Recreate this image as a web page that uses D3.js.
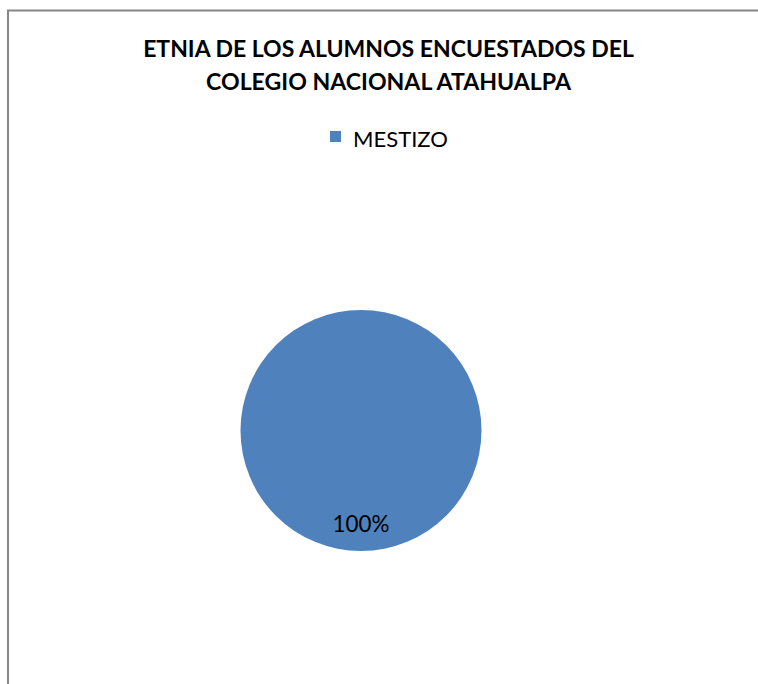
<!DOCTYPE html>
<html><head><meta charset="utf-8">
<script src="https://cdn.jsdelivr.net/npm/d3@7"></script>
<style>body{margin:0;background:#fff}svg{display:block}</style>
</head><body>
<svg id="c" width="758" height="684"></svg>
<script>
const categories = ["MESTIZO"];
const values = [100];
const labels = ["100%"];
const titleLines = ["ETNIA DE LOS ALUMNOS ENCUESTADOS DEL", "COLEGIO NACIONAL ATAHUALPA"];
const colors = ["#4F81BD"];

const svg = d3.select("#c");
const font = "Lato, 'Open Sans', sans-serif";

// chart frame
svg.append("rect").attr("x", 8).attr("y", 10.5).attr("width", 800).attr("height", 800)
  .attr("fill", "#fff").attr("stroke", "#868686").attr("stroke-width", 2);

function fitText(sel, target) {
  const w = sel.node().getComputedTextLength();
  const fs = parseFloat(sel.attr("font-size"));
  sel.attr("font-size", fs * target / w);
}

// title
const tw = [491, 365];
const ty = [57, 90];
titleLines.forEach((t, i) => {
  const s = svg.append("text").attr("x", 388.5).attr("y", ty[i]).attr("text-anchor", "middle")
    .attr("font-family", font).attr("font-weight", "bold").attr("font-size", 18).attr("fill", "#000").text(t);
  fitText(s, tw[i]);
});

// legend
const lg = svg.append("g");
lg.selectAll("rect").data(categories).join("rect")
  .attr("x", 330).attr("y", 131).attr("width", 11).attr("height", 11).attr("fill", (d, i) => colors[i]);
lg.selectAll("text").data(categories).join("text")
  .attr("x", 353).attr("y", 147).attr("font-family", font).attr("font-size", 20).attr("fill", "#000")
  .text(d => d).each(function(){ fitText(d3.select(this), 95); });

// pie
const cx = 361, cy = 430.5, r = 120.5;
const pie = d3.pie().sort(null)(values);
const arc = d3.arc().innerRadius(0).outerRadius(r);
const g = svg.append("g").attr("transform", `translate(${cx},${cy})`);
g.selectAll("path").data(pie).join("path").attr("d", arc).attr("fill", (d, i) => colors[i]);

const labelArc = d3.arc().innerRadius(r * 0.78).outerRadius(r * 0.78);
g.selectAll("text").data(pie).join("text")
  .attr("x", d => labelArc.centroid({startAngle: Math.PI, endAngle: Math.PI})[0])
  .attr("y", d => labelArc.centroid({startAngle: Math.PI, endAngle: Math.PI})[1] + 8)
  .attr("text-anchor", "middle").attr("font-family", font).attr("font-size", 20).attr("fill", "#000")
  .text((d, i) => labels[i]).each(function(){ fitText(d3.select(this), 57); });
</script>
</body></html>
